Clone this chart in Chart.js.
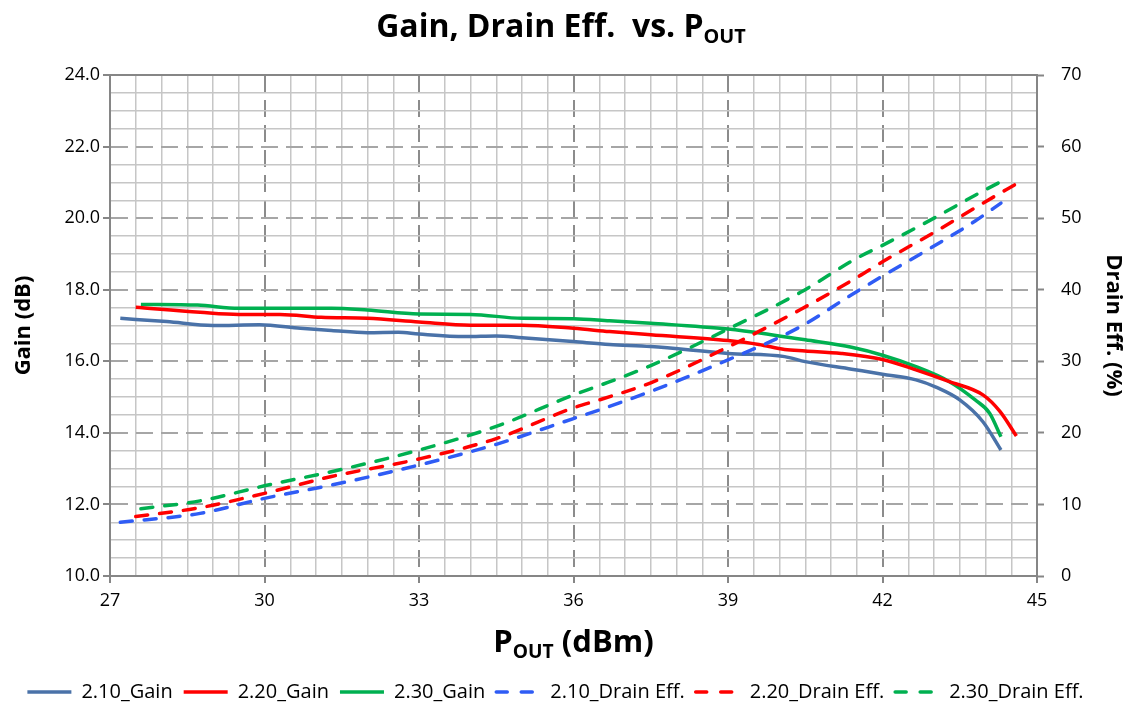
<!DOCTYPE html>
<html>
<head>
<meta charset="utf-8">
<script src="https://cdn.jsdelivr.net/npm/chart.js@4.4.1/dist/chart.umd.min.js"></script>
<style>
  html, body { margin: 0; padding: 0; background: #fff; }
  #wrap { position: relative; width: 1135px; height: 707px; overflow: hidden; }
  #c { position: absolute; left: 0; top: 0; }
  .ttl { position: absolute; font-family: 'Open Sans', sans-serif; font-weight: bold; color: #000; white-space: nowrap; text-align: center; }
  .ttl sub { font-size: 62%; vertical-align: -0.3em; line-height: 0; }
</style>
</head>
<body>
<div id="wrap">
  <canvas id="c" width="1135" height="707"></canvas>
  <div class="ttl" style="left:0; width:1122px; top:3px; font-size:32px;">Gain, Drain Eff.&nbsp; vs. P<sub>OUT</sub></div>
  <div class="ttl" style="left:110px; width:927px; top:619px; font-size:31px;">P<sub>OUT</sub> (dBm)</div>
</div>
<script>
// Pout (dBm) positions and readings, one pair of arrays per curve
const blueGainX = [27.2, 28.1, 29.0, 29.9, 30.7, 31.3, 32.0, 32.6, 33.0, 33.9, 34.5, 35.0, 36.0, 36.7, 37.5, 39.0, 40.1, 40.5, 41.4, 42.0, 42.65, 43.05, 43.5, 43.95, 44.3];
const blueGain  = [17.2, 17.11, 17.0, 17.02, 16.92, 16.86, 16.8, 16.81, 16.76, 16.69, 16.71, 16.66, 16.55, 16.47, 16.41, 16.22, 16.13, 15.99, 15.78, 15.64, 15.48, 15.27, 14.92, 14.31, 13.52];

const redGainX = [27.5, 28.75, 29.5, 30.3, 31.1, 32.0, 33.0, 34.0, 35.0, 36.0, 36.7, 37.5, 39.0, 39.6, 40.1, 40.5, 41.2, 42.0, 42.65, 43.3, 43.95, 44.28, 44.6];
const redGain  = [17.51, 17.37, 17.31, 17.31, 17.23, 17.2, 17.1, 17.01, 17.01, 16.92, 16.83, 16.74, 16.58, 16.47, 16.33, 16.29, 16.22, 16.05, 15.76, 15.43, 15.06, 14.6, 13.91];

const greenGainX = [27.6, 28.7, 29.5, 30.7, 31.3, 32.0, 33.0, 34.0, 35.0, 36.0, 36.7, 37.5, 39.0, 39.9, 40.5, 41.4, 42.0, 42.65, 43.3, 43.8, 44.08, 44.3];
const greenGain  = [17.59, 17.57, 17.48, 17.48, 17.48, 17.43, 17.32, 17.31, 17.2, 17.19, 17.13, 17.06, 16.9, 16.73, 16.6, 16.39, 16.17, 15.85, 15.43, 14.92, 14.55, 13.89];

const blueEffX = [27.2, 28.75, 30.0, 31.3, 33.0, 34.5, 36.0, 36.5, 37.5, 39.0, 40.4, 41.4, 42.0, 43.0, 43.8, 44.3];
const blueEff  = [7.5, 8.75, 10.85, 12.7, 15.5, 18.4, 22.0, 23.2, 25.8, 30.2, 34.8, 39.3, 41.9, 46.1, 49.6, 52.1];

const redEffX = [27.5, 28.75, 30.0, 31.3, 33.0, 34.5, 36.0, 36.5, 37.5, 39.0, 40.4, 41.5, 42.0, 43.0, 44.0, 44.6];
const redEff  = [8.3, 9.55, 11.55, 13.9, 16.35, 19.2, 23.5, 24.6, 27.0, 32.0, 37.2, 41.7, 43.9, 48.0, 52.3, 54.8];

const greenEffX = [27.6, 28.75, 30.0, 31.5, 33.0, 34.5, 36.0, 36.5, 37.5, 39.0, 40.4, 41.5, 42.0, 43.0, 43.8, 44.3];
const greenEff  = [9.4, 10.5, 12.6, 14.9, 17.6, 20.9, 25.3, 26.6, 29.4, 34.5, 39.6, 44.4, 46.2, 50.0, 53.2, 55.1];

const seriesNames = ['2.10_Gain', '2.20_Gain', '2.30_Gain', '2.10_Drain Eff.', '2.20_Drain Eff.', '2.30_Drain Eff.'];

const FONT = "'Open Sans', sans-serif";
const AXIS_GRAY = '#868686';
const MINOR_GRID = '#c6c6c6';
const LINE_W = 3.5;
const DASH = [12, 12];

const toPoints = (xs, ys) => xs.map((x, i) => ({ x: x, y: ys[i] }));

const makeLine = (label, xs, ys, color, axis, dashed) => ({
  label: label,
  data: toPoints(xs, ys),
  yAxisID: axis,
  borderColor: color,
  backgroundColor: color,
  borderWidth: LINE_W,
  borderDash: dashed ? DASH : [],
  borderCapStyle: dashed ? 'round' : 'butt',
  pointRadius: 0,
  cubicInterpolationMode: 'monotone',
  fill: false,
  order: dashed ? 0 : 1
});

// legend items with the dataset's own dash (point style labels drop it otherwise)
const legendLabels = (chart) => {
  const items = Chart.defaults.plugins.legend.labels.generateLabels(chart);
  items.forEach(item => {
    const ds = chart.data.datasets[item.datasetIndex];
    item.strokeStyle = ds.borderColor;
    item.fillStyle = ds.borderColor;
    item.lineWidth = LINE_W;
    item.lineDash = ds.borderDash.length ? [11, 14] : [];
    item.lineCap = ds.borderDash.length ? 'round' : 'butt';
    item.fontColor = '#000';
  });
  return items.sort((a, b) => a.datasetIndex - b.datasetIndex);
};

// nudge the legend row a little lower and left, like the original
const legendShift = {
  id: 'legendShift',
  afterLayout(chart) {
    const lg = chart.legend;
    if (lg) {
      lg.top += 5;
      lg.bottom += 5;
      lg.left -= 12;
      lg.right -= 12;
    }
  }
};

const ctx = document.getElementById('c');

new Chart(ctx, {
  type: 'line',
  data: {
    datasets: [
      makeLine(seriesNames[0], blueGainX, blueGain, '#4a72a8', 'y', false),
      makeLine(seriesNames[1], redGainX, redGain, '#ff0000', 'y', false),
      makeLine(seriesNames[2], greenGainX, greenGain, '#00b050', 'y', false),
      makeLine(seriesNames[3], blueEffX, blueEff, '#2f5cf5', 'y1', true),
      makeLine(seriesNames[4], redEffX, redEff, '#ff0000', 'y1', true),
      makeLine(seriesNames[5], greenEffX, greenEff, '#00b050', 'y1', true)
    ]
  },
  plugins: [legendShift],
  options: {
    responsive: false,
    animation: false,
    layout: { padding: { top: 75, left: 0, right: 0, bottom: 0 } },
    plugins: {
      title: { display: false },
      tooltip: { enabled: false },
      legend: {
        position: 'bottom',
        labels: {
          usePointStyle: true,
          pointStyle: 'line',
          pointStyleWidth: 44,
          boxHeight: 20,
          padding: 11,
          color: '#000',
          font: { family: FONT, size: 20 },
          generateLabels: legendLabels
        }
      }
    },
    scales: {
      x: {
        type: 'linear',
        min: 27,
        max: 45,
        afterFit: (scale) => {
          const legendH = scale.chart.legend ? scale.chart.legend.height : 0;
          scale.height = scale.chart.height - 576 - legendH;
        },
        ticks: {
          stepSize: 0.5,
          autoSkip: false,
          maxRotation: 0,
          padding: 7,
          color: '#000',
          font: { family: FONT, size: 18 },
          callback: (v) => (v % 3 === 0 ? String(v) : '')
        },
        grid: {
          color: (c) => (c.tick && c.tick.value % 3 === 0 ? '#8c8c8c' : MINOR_GRID),
          lineWidth: (c) => (c.tick && c.tick.value % 3 === 0 ? 2 : 1.5),
          tickColor: (c) => (c.tick && c.tick.value % 3 === 0 ? AXIS_GRAY : 'rgba(0,0,0,0)'),
          tickLength: 7,
          tickWidth: 2,
          tickBorderDash: []
        },
        border: {
          display: true,
          color: AXIS_GRAY,
          width: 2,
          dash: (c) => (c.tick && c.tick.value % 3 === 0 && c.tick.value > 27 && c.tick.value < 45 ? [17, 8] : [])
        }
      },
      y: {
        type: 'linear',
        position: 'left',
        min: 10,
        max: 24,
        afterFit: (scale) => { scale.width = 110; },
        title: {
          display: true,
          text: 'Gain (dB)',
          color: '#000',
          font: { family: FONT, size: 22, weight: 'bold' },
          padding: { top: 11, bottom: 0 }
        },
        ticks: {
          stepSize: 0.5,
          autoSkip: false,
          padding: 3,
          color: '#000',
          font: { family: FONT, size: 18 },
          callback: (v) => (v % 2 === 0 ? v.toFixed(1) : '')
        },
        grid: {
          color: (c) => (c.tick && c.tick.value % 2 === 0 ? (c.tick.value === 24 ? AXIS_GRAY : '#a6a6a6') : MINOR_GRID),
          lineWidth: (c) => (c.tick && c.tick.value % 2 === 0 ? 2 : 1.5),
          tickColor: (c) => (c.tick && c.tick.value % 2 === 0 ? AXIS_GRAY : 'rgba(0,0,0,0)'),
          tickLength: 7,
          tickWidth: 2,
          tickBorderDash: []
        },
        border: {
          display: true,
          color: AXIS_GRAY,
          width: 2,
          dash: (c) => (c.tick && c.tick.value % 2 === 0 && c.tick.value > 10 && c.tick.value < 24 ? [17, 8] : [])
        }
      },
      y1: {
        type: 'linear',
        position: 'right',
        min: 0,
        max: 70,
        afterFit: (scale) => { scale.width = 98; },
        title: {
          display: true,
          text: 'Drain Eff. (%)',
          color: '#000',
          font: { family: FONT, size: 22, weight: 'bold' },
          padding: { top: 9, bottom: 0 }
        },
        ticks: {
          stepSize: 10,
          padding: 17,
          color: '#000',
          font: { family: FONT, size: 18 }
        },
        grid: {
          drawOnChartArea: false,
          color: AXIS_GRAY,
          tickLength: 7,
          tickWidth: 2
        },
        border: { display: true, color: AXIS_GRAY, width: 2 }
      }
    }
  }
});
</script>
</body>
</html>
